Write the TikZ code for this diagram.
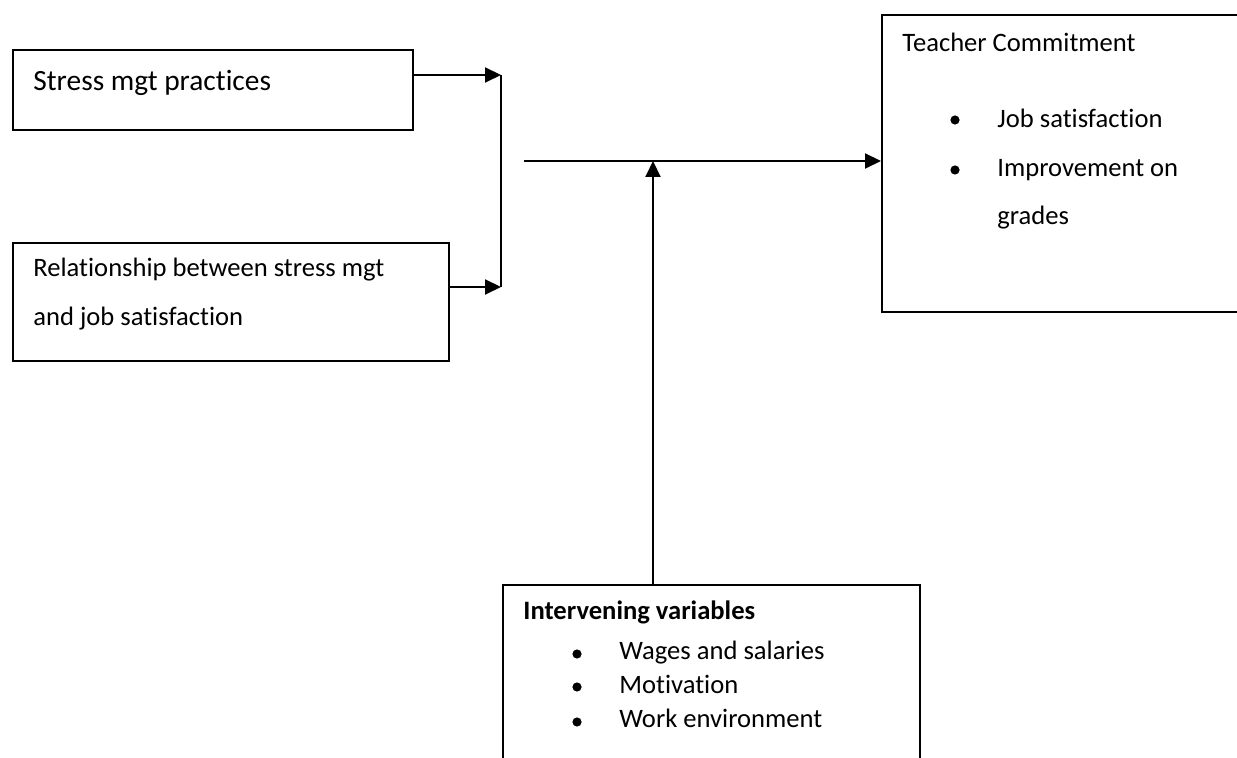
\documentclass[tikz,border=0pt]{standalone}
\usepackage{fontspec}
\setmainfont{Carlito}[Ligatures=CommonOff]
\usetikzlibrary{arrows.meta}
\begin{document}
\begin{tikzpicture}[x=0.5pt,y=-0.5pt,
  box/.style={draw,line width=1pt,inner sep=0pt,anchor=north west},
  txt/.style={inner sep=0pt,anchor=base west,font=\fontsize{13.3}{16}\selectfont},
  bigtxt/.style={inner sep=0pt,anchor=base west,font=\fontsize{14.7}{17}\selectfont},
  conn/.style={line width=1pt},
  arr/.style={line width=1pt,-{Triangle[length=8pt,width=7.5pt]}},
  dot/.style={circle,fill,inner sep=0pt,minimum size=4.6pt}]
\useasboundingbox (0,0) rectangle (1237,758);
\clip (0,0) rectangle (1237,758);
% boxes
\node[box,minimum width=200pt,minimum height=40pt] (stress) at (12,49) {};
\node[box,minimum width=218pt,minimum height=59pt] (rel) at (12,242) {};
\node[box,minimum width=190pt,minimum height=148.5pt] (tc) at (881,14) {};
\node[box,minimum width=208.5pt,minimum height=110pt] (iv) at (502,584) {};
% texts
\node[bigtxt] (t1) at (33,91) {Stress mgt practices};
\node[txt] (t2a) at (33,277) {Relationship between stress mgt};
\node[txt] (t2b) at (33,326) {and job satisfaction};
\node[txt] (t3) at (902,52) {Teacher Commitment};
\node[dot] (b31) at (955,120) {};
\node[txt] (t31) at (997,128) {Job satisfaction};
\node[dot] (b32) at (955,170) {};
\node[txt] (t32) at (997,177) {Improvement on};
\node[txt] (t33) at (997,225) {grades};
\node[txt,font=\fontsize{13.3}{16}\selectfont\bfseries] (t4) at (523,620) {Intervening variables};
\node[dot] (b41) at (577,654) {};
\node[txt] (t41) at (619,660) {Wages and salaries};
\node[dot] (b42) at (577,687) {};
\node[txt] (t42) at (619,693) {Motivation};
\node[dot] (b43) at (577,722) {};
\node[txt] (t43) at (619,727) {Work environment};
% connectors
\coordinate (j1) at (501,75);
\coordinate (j2) at (501,287);
\coordinate (hs) at (524,161);
\coordinate (hm) at (653,161);
\draw[arr] (stress.east |- j1) -- (j1);
\draw[conn] (j1) -- (j2);
\draw[arr] (rel.east |- j2) -- (j2);
\draw[arr] (hs) -- (tc.west |- hs);
\draw[arr] (hm |- iv.north) -- (hm);
\end{tikzpicture}
\end{document}
